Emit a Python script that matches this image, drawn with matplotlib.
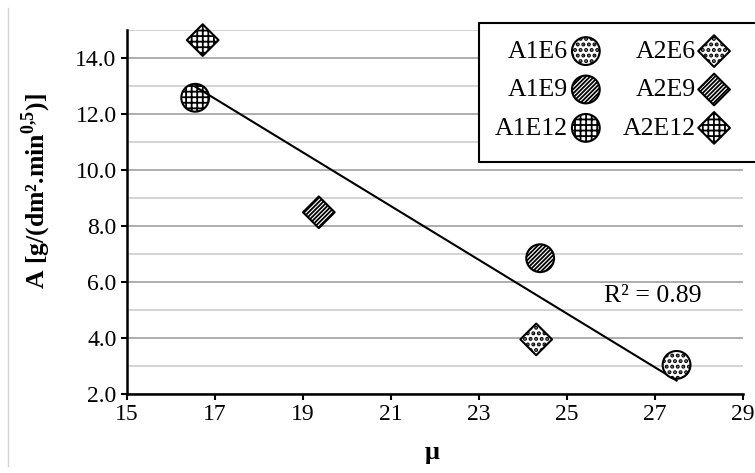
import numpy as np
import matplotlib
matplotlib.use('Agg')
import matplotlib.pyplot as plt
from matplotlib.ticker import MultipleLocator, FormatStrFormatter
from matplotlib.patches import Rectangle
from matplotlib.lines import Line2D

plt.rcParams['font.family'] = ['Liberation Serif', 'DejaVu Serif']
plt.rcParams['mathtext.fontset'] = 'custom'
plt.rcParams['mathtext.rm'] = 'Liberation Serif'
plt.rcParams['mathtext.bf'] = 'Liberation Serif:bold'
plt.rcParams['hatch.linewidth'] = 1.3

# samples (mu, A)
labels = ['A1E6', 'A1E9', 'A1E12', 'A2E6', 'A2E9', 'A2E12']
mu = [27.49, 24.39, 16.55, 24.30, 19.36, 16.72]
A = [3.04, 6.85, 12.58, 3.95, 8.49, 14.64]
markers = ['o', 'o', 'o', 'D', 'D', 'D']
hatches = ['...', '////////', '+++', '...', '////////', '+++']

x_ticks = [15, 17, 19, 21, 23, 25, 27, 29]
y_ticks = [2, 4, 6, 8, 10, 12, 14]

fig = plt.figure(figsize=(7.55, 4.73), dpi=100)
ax = fig.add_axes([127/755, 79/473, 616/755, 364/473])

for i in range(len(labels)):
    size = 400 if markers[i] == 'o' else 260
    z = 3 if labels[i] == 'A1E12' else 4
    sc = ax.scatter(mu[i], A[i], s=size, marker=markers[i], facecolor='white',
                    edgecolor='black', linewidths=1.5, hatch=hatches[i],
                    label=labels[i], zorder=z, clip_on=False)
    if hatches[i] == '...' and hasattr(sc, 'set_hatch_linewidth'):
        sc.set_hatch_linewidth(2.0)

# linear trendline over all samples
k, b = np.polyfit(mu, A, 1)
pred = k * np.array(mu) + b
r2 = 1 - np.sum((np.array(A) - pred) ** 2) / np.sum((np.array(A) - np.mean(A)) ** 2)
xs = np.array([min(mu), max(mu)])
ax.plot(xs, k * xs + b, color='black', lw=1.5, zorder=3.5)
ax.text(25.85, 5.5, 'R² = %.2f' % r2, fontsize=18.5, ha='left', va='center')

ax.set_xlim(15, 29)
ax.set_ylim(2, 15)
ax.set_xticks(x_ticks)
ax.set_yticks(y_ticks)
ax.yaxis.set_major_formatter(FormatStrFormatter('%.1f'))
ax.yaxis.set_minor_locator(MultipleLocator(1))
ax.tick_params(axis='both', which='major', labelsize=17, length=4.5, width=1.5,
               direction='out', pad=3)
ax.tick_params(axis='y', which='minor', length=0)
ax.grid(axis='y', which='major', color='#a0a0a0', lw=1.2)
ax.grid(axis='y', which='minor', color='#cdcdcd', lw=1.2)
ax.set_axisbelow(True)
for s in ['top', 'right']:
    ax.spines[s].set_visible(False)
for s in ['left', 'bottom']:
    ax.spines[s].set_linewidth(1.8)

ax.set_xlabel('μ', fontsize=19, fontweight='bold')
ax.xaxis.set_label_coords((432 - 127) / 616, -47/364)
ax.set_ylabel(r'A [g/(dm².min$^{\mathbf{0{,}5}}$)]', fontsize=18.5,
              fontweight='bold')
ax.yaxis.set_label_coords(-74/616, 203/364)

# legend with a box running off the right edge
box = Rectangle((479/755, 1 - 162/473), 290/755, 139.3/473, transform=fig.transFigure,
                facecolor='white', edgecolor='black', lw=1.5, zorder=4.9, clip_on=False)
ax.add_patch(box)
leg = ax.legend(loc='upper left', bbox_to_anchor=(482/755, 1 - 27/473),
                bbox_transform=fig.transFigure, ncol=2, frameon=False,
                markerfirst=False, fontsize=18.5, borderpad=0, handletextpad=0.1,
                columnspacing=0.85, labelspacing=0.6, handlelength=1.2)
leg.set_zorder(5)
for h, hp in zip(leg.legend_handles, hatches):
    if hp == '...' and hasattr(h, 'set_hatch_linewidth'):
        h.set_hatch_linewidth(2.0)

# chart area border (left edge only is visible)
fig.add_artist(Line2D([7.5/755, 7.5/755], [1 - 8/473, 1 - 466/473],
                      transform=fig.transFigure, color='#d4d4d4', lw=1))

fig.savefig('out.png', dpi=100)
